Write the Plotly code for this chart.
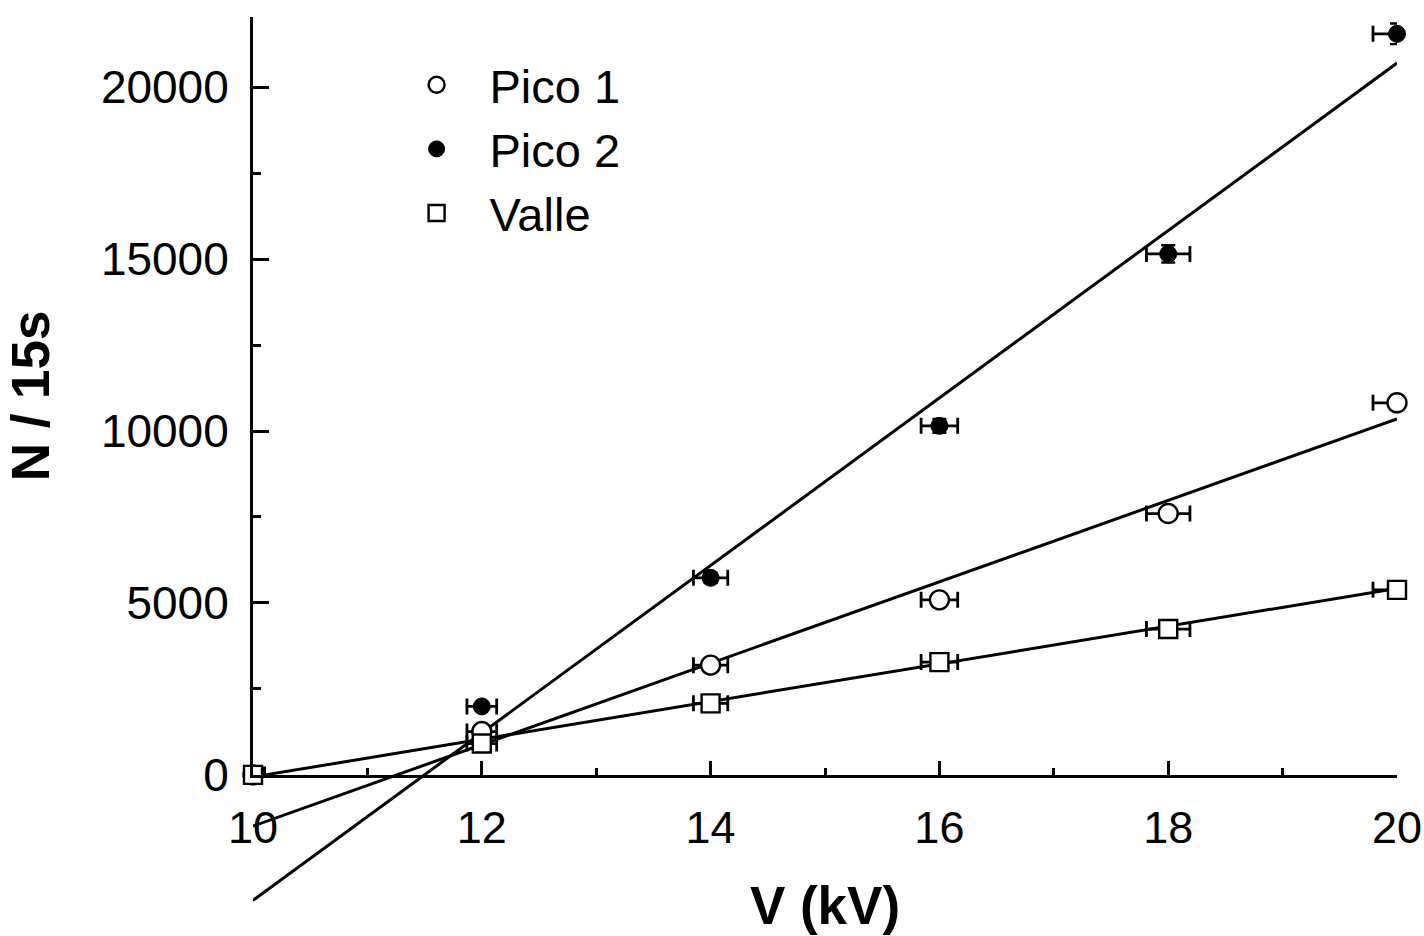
import plotly.graph_objects as go

# Voltage settings (kV) and their horizontal uncertainty
voltage = [10, 12, 14, 16, 18, 20]
voltage_err = [0.10, 0.13, 0.15, 0.16, 0.19, 0.21]

# Counts per 15 s for each spectral feature
pico1 = [0, 1260, 3190, 5090, 7600, 10820]
pico2 = [0, 1990, 5730, 10150, 15150, 21550]
valle = [0, 910, 2080, 3280, 4240, 5380]

pico1_err = [0, 70, 110, 140, 170, 210]
pico2_err = [0, 90, 150, 200, 250, 300]
valle_err = [0, 60, 90, 110, 130, 150]

# Linear fits, evaluated at the ends of the voltage range
fit_x = [10, 20]
pico1_fit = [-1490, 10350]
pico2_fit = [-3650, 20700]
valle_fit = [-60, 5420]

# Axis ticks
x_ticks = [10, 12, 14, 16, 18, 20]
x_minor = [11, 13, 15, 17, 19]
y_ticks = [0, 5000, 10000, 15000, 20000]
y_ticktext = ["0", "5000", "10000", "15000", "20000"]
y_minor = [2500, 7500, 12500, 17500]

y_top = 22040
y_bottom = -4250  # the fit lines continue below the x axis
axis_base = (0 - y_bottom) / (y_top - y_bottom)

FONT = "Arial, Liberation Sans, sans-serif"
BLACK = "#000000"

fig = go.Figure()

# Fit lines live on a hidden full-height subplot so they can run below y = 0
for fy in (pico2_fit, pico1_fit, valle_fit):
    fig.add_trace(go.Scatter(
        x=fit_x, y=fy, mode="lines", xaxis="x", yaxis="y",
        line=dict(color=BLACK, width=3), showlegend=False, hoverinfo="skip",
    ))

def errx():
    return dict(type="data", array=voltage_err, color=BLACK, thickness=2.8, width=8)

def erry(arr):
    return dict(type="data", array=arr, color=BLACK, thickness=2.4, width=7)

fig.add_trace(go.Scatter(
    x=voltage, y=pico1, mode="markers", name="\u2002\u2009Pico 1", xaxis="x2", yaxis="y2",
    marker=dict(symbol="circle", size=19, color="white", line=dict(color=BLACK, width=2.4)),
    error_x=errx(), error_y=erry(pico1_err), cliponaxis=False,
))
fig.add_trace(go.Scatter(
    x=voltage, y=pico2, mode="markers", name="\u2002\u2009Pico 2", xaxis="x2", yaxis="y2",
    marker=dict(symbol="circle", size=17, color=BLACK, line=dict(color=BLACK, width=1)),
    error_x=errx(), error_y=erry(pico2_err), cliponaxis=False,
))
fig.add_trace(go.Scatter(
    x=voltage, y=valle, mode="markers", name="\u2002\u2009Valle", xaxis="x2", yaxis="y2",
    marker=dict(symbol="square", size=18, color="white", line=dict(color=BLACK, width=2.4)),
    error_x=errx(), error_y=erry(valle_err), cliponaxis=False,
))

hidden = dict(visible=False, showgrid=False, zeroline=False, automargin=False)

fig.update_layout(
    width=1424, height=936,
    margin=dict(l=253, r=27, t=17, b=15),
    paper_bgcolor="white", plot_bgcolor="rgba(0,0,0,0)",
    font=dict(family=FONT, color=BLACK),
    xaxis=dict(range=[10, 20], domain=[0, 1], anchor="y", **hidden),
    yaxis=dict(range=[y_bottom, y_top], domain=[0, 1], anchor="x", **hidden),
    xaxis2=dict(
        range=[10, 20], domain=[0, 1], anchor="y2", automargin=False,
        showline=True, linecolor=BLACK, linewidth=3, mirror=False,
        showgrid=False, zeroline=False,
        tickmode="array", tickvals=x_ticks,
        ticks="inside", ticklen=14, tickwidth=2.5, tickcolor=BLACK,
        minor=dict(tickmode="array", tickvals=x_minor,
                   ticks="inside", ticklen=7, tickwidth=2.5, tickcolor=BLACK),
        tickfont=dict(family=FONT, size=45, color=BLACK),
        ticklabelstandoff=11,
        title=dict(text="<b>V (kV)</b>", font=dict(family=FONT, size=53, color=BLACK),
                   standoff=36),
    ),
    yaxis2=dict(
        range=[0, y_top], domain=[axis_base, 1], anchor="x2", automargin=False,
        showline=True, linecolor=BLACK, linewidth=3,
        showgrid=False, zeroline=False,
        tickmode="array", tickvals=y_ticks, ticktext=y_ticktext,
        ticks="inside", ticklen=16, tickwidth=2.5, tickcolor=BLACK,
        minor=dict(tickmode="array", tickvals=y_minor,
                   ticks="inside", ticklen=8, tickwidth=2.5, tickcolor=BLACK),
        tickfont=dict(family=FONT, size=46, color=BLACK),
        ticklabelstandoff=12,
        title=dict(text="<b>N / 15s</b>", font=dict(family=FONT, size=53, color=BLACK),
                   standoff=35),
    ),
    legend=dict(
        x=0.143, y=0.966, xanchor="left", yanchor="top",
        bgcolor="rgba(0,0,0,0)", borderwidth=0,
        font=dict(family=FONT, size=47, color=BLACK),
        tracegroupgap=0, itemsizing="trace", itemwidth=30,
    ),
)

fig.write_html("out.html")
